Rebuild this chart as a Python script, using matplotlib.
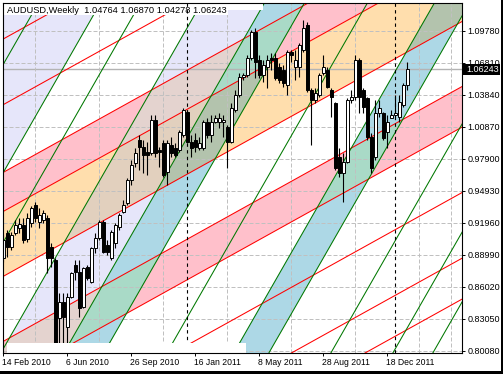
import matplotlib
matplotlib.use('Agg')
import matplotlib.pyplot as plt
import matplotlib.transforms as mtransforms
from matplotlib.patches import Rectangle, Polygon
import numpy as np

plt.rcParams['font.family'] = ['Liberation Sans', 'DejaVu Sans']

# AUDUSD weekly bars, first bar = week of 14 Feb 2010
opens = [0.8866, 0.9098, 0.8974, 0.9098, 0.9145, 0.9176, 0.9042, 0.9197, 0.9361, 0.9207,
         0.9222, 0.9238, 0.8974, 0.8850, 0.8308, 0.8463, 0.8231, 0.8510, 0.8804, 0.8742,
         0.8417, 0.8788, 0.8649, 0.8959, 0.9052, 0.9207, 0.8990, 0.8866, 0.9005, 0.9160,
         0.9299, 0.9377, 0.9594, 0.9749, 0.9965, 0.9903, 0.9857, 0.9841, 1.0151, 0.9872,
         0.9934, 0.9671, 0.9919, 0.9888, 0.9872, 1.0012, 1.0229, 0.9950, 0.9965, 0.9888,
         0.9888, 1.0136, 1.0012, 1.0136, 1.0136, 1.0136, 1.0089, 0.9950, 1.0244, 1.0383,
         1.0548, 1.0569, 1.0724, 1.0972, 1.0709, 1.0569, 1.0647, 1.0724, 1.0724, 1.0647,
         1.0616, 1.0476, 1.0786, 1.0647, 1.0647, 1.0801, 1.1034, 1.0430, 1.0337, 1.0383,
         1.0585, 1.0616, 1.0430, 1.0306, 0.9810, 0.9656, 0.9764, 1.0337, 1.0368, 1.0709,
         1.0430, 1.0352, 0.9996, 0.9810, 1.0213, 1.0213, 1.0043, 1.0167, 1.0198, 1.0182,
         1.0290, 1.04764]
highs = [0.9083, 0.9129, 0.9114, 0.9222, 0.9238, 0.9238, 0.9284, 0.9352, 0.9392, 0.9330,
         0.9315, 0.9268, 0.9005, 0.8866, 0.8541, 0.8541, 0.8541, 0.8742, 0.8850, 0.8850,
         0.8788, 0.8804, 0.8974, 0.9098, 0.9222, 0.9222, 0.9036, 0.9129, 0.9191, 0.9284,
         0.9408, 0.9609, 0.9779, 0.9888, 1.0012, 0.9965, 0.9950, 1.0198, 1.0198, 0.9903,
         0.9965, 0.9965, 0.9996, 0.9934, 1.0058, 1.0260, 1.0244, 1.0012, 1.0027, 0.9996,
         1.0151, 1.0167, 1.0198, 1.0198, 1.0213, 1.0198, 1.0105, 1.0306, 1.0430, 1.0585,
         1.0585, 1.0755, 1.0987, 1.1003, 1.0755, 1.0709, 1.0755, 1.0771, 1.0771, 1.0678,
         1.0662, 1.0801, 1.0801, 1.0801, 1.0863, 1.1080, 1.1065, 1.0445, 1.0445, 1.0585,
         1.0755, 1.0647, 1.0445, 1.0321, 0.9888, 0.9841, 1.0352, 1.0430, 1.0755, 1.0724,
         1.0445, 1.0368, 1.0027, 1.0337, 1.0337, 1.0229, 1.0198, 1.0244, 1.0383, 1.0383,
         1.0492, 1.06870]
lows = [0.8835, 0.8881, 0.8943, 0.9083, 0.9098, 0.9005, 0.9021, 0.9160, 0.9207, 0.9145,
        0.9191, 0.8726, 0.8788, 0.8060, 0.8060, 0.8060, 0.8060, 0.8494, 0.8665, 0.8324,
        0.8401, 0.8665, 0.8634, 0.8912, 0.9036, 0.8912, 0.8897, 0.8850, 0.8959, 0.9129,
        0.9284, 0.9361, 0.9547, 0.9718, 0.9687, 0.9656, 0.9640, 0.9826, 0.9810, 0.9718,
        0.9625, 0.9547, 0.9810, 0.9810, 0.9857, 0.9996, 0.9934, 0.9810, 0.9857, 0.9872,
        0.9872, 0.9981, 0.9950, 1.0120, 1.0074, 0.9996, 0.9702, 0.9934, 1.0229, 1.0368,
        1.0523, 1.0554, 1.0709, 1.0538, 1.0538, 1.0507, 1.0445, 1.0616, 1.0523, 1.0492,
        1.0461, 1.0383, 1.0693, 1.0523, 1.0554, 1.0786, 1.0414, 0.9919, 1.0306, 1.0368,
        1.0569, 1.0445, 1.0182, 0.9687, 0.9625, 0.9392, 0.9749, 1.0306, 1.0337, 1.0213,
        1.0213, 0.9965, 0.9656, 0.9779, 1.0182, 0.9965, 0.9888, 1.0167, 1.0182, 1.0136,
        1.0275, 1.04278]
closes = [0.9036, 0.8974, 0.9083, 0.9176, 0.9182, 0.9036, 0.9238, 0.9330, 0.9238, 0.9268,
          0.9284, 0.8866, 0.8866, 0.8076, 0.8463, 0.8324, 0.8510, 0.8726, 0.8742, 0.8401,
          0.8773, 0.8680, 0.8959, 0.9052, 0.9207, 0.8928, 0.8928, 0.9114, 0.9176, 0.9268,
          0.9361, 0.9594, 0.9733, 0.9841, 0.9903, 0.9826, 0.9826, 1.0151, 0.9841, 0.9857,
          0.9640, 0.9934, 0.9841, 0.9826, 1.0043, 1.0244, 0.9950, 0.9888, 0.9903, 0.9934,
          1.0136, 1.0012, 1.0136, 1.0167, 1.0167, 1.0151, 0.9950, 1.0260, 1.0383, 1.0554,
          1.0569, 1.0724, 1.0972, 1.0693, 1.0569, 1.0662, 1.0709, 1.0709, 1.0538, 1.0523,
          1.0492, 1.0786, 1.0755, 1.0709, 1.0848, 1.1003, 1.0430, 1.0337, 1.0399, 1.0569,
          1.0647, 1.0461, 1.0368, 0.9702, 0.9656, 0.9764, 1.0337, 1.0368, 1.0709, 1.0368,
          1.0275, 0.9996, 0.9702, 1.0213, 1.0260, 0.9981, 1.0136, 1.0198, 1.0213, 1.0321,
          1.0476, 1.06243]

date_labels = ['14 Feb 2010', '6 Jun 2010', '26 Sep 2010', '16 Jan 2011',
               '8 May 2011', '28 Aug 2011', '18 Dec 2011']
date_bars = [0, 16, 32, 48, 64, 80, 96]
year_breaks = [46, 98]
price_ticks = [1.0978, 1.0681, 1.0384, 1.0087, 0.9790, 0.9493,
               0.9196, 0.8899, 0.8602, 0.8305, 0.8008]

# channel lines: price at bar 0 + slope per bar
red_slope = 0.002064
red_start = [1.0904, 1.0294, 0.9665, 0.9302, 0.8699, 0.8095, 0.7718, 0.7110, 0.6500, 0.6120]
green_slope = 0.006484
green_start = [1.0669, 0.9664, 0.9016, 0.8027, 0.7006, 0.6357, 0.5336,
               0.4250, 0.3682, 0.2677, 0.1672, 0.1024]

# filled bands (upper line, lower line, colour name)
red_bands = [(0.9665, 0.9302, 'pink'), (0.9302, 0.8699, 'orange'), (0.8095, 0.7718, 'pink')]
green_bands = [(1.6000, 0.9664, 'lav'), (0.8027, 0.7006, 'lav'),
               (0.7006, 0.6357, 'blue'), (0.4250, 0.3682, 'blue')]

base_col = {'pink': '#FFC0CB', 'orange': '#FFDEAD', 'lav': '#E6E6FA', 'blue': '#ADD8E6'}
mix_col = {('pink', 'lav'): '#E4D3CF', ('orange', 'lav'): '#E2D0BE',
           ('orange', 'blue'): '#B3C3AD', ('pink', 'blue'): '#A9DAC7'}

fig = plt.figure(figsize=(5.03, 3.74), dpi=100)
ax = fig.add_axes([2.7 / 503, 1 - 352.7 / 374, 459 / 503, 350 / 374])
ax.set_xlim(-0.15, 114.6)
ax.set_ylim(0.79894, 1.12409)

X0, X1 = -60.0, 180.0


def band(top, bot, slope):
    return [(X0, top + slope * X0), (X1, top + slope * X1),
            (X1, bot + slope * X1), (X0, bot + slope * X0)]


def cross(a, b):
    i = (b - a) / (red_slope - green_slope)
    return (i, a + red_slope * i)


for top, bot, c in red_bands:
    ax.add_patch(Polygon(band(top, bot, red_slope), closed=True, fc=base_col[c], ec='none', zorder=1))
for top, bot, c in green_bands:
    ax.add_patch(Polygon(band(top, bot, green_slope), closed=True, fc=base_col[c], ec='none', zorder=1))
for ra, rb, rc in red_bands:
    for ga, gb, gc in green_bands:
        pts = [cross(ra, ga), cross(ra, gb), cross(rb, gb), cross(rb, ga)]
        ax.add_patch(Polygon(pts, closed=True, fc=mix_col[(rc, gc)], ec='none', zorder=1.2))

# grid
ax.set_yticks(price_ticks)
ax.set_yticklabels(['%.5f' % p for p in price_ticks])
ax.set_xticks(date_bars)
ax.set_xticklabels(date_labels)
ax.set_xticks(np.arange(0, 115, 8), minor=True)
ax.grid(axis='y', which='major', color='#C0C0C0', linestyle=(0, (4, 2)), lw=0.72, zorder=2)
ax.grid(axis='x', which='minor', color='#C0C0C0', linestyle=(0, (4, 2)), lw=0.72, zorder=2)
ax.set_axisbelow(False)
for gl in ax.get_xgridlines() + ax.get_ygridlines():
    gl.set_zorder(2)

# channel lines
xs = np.array([X0, X1])
for a in red_start:
    ax.plot(xs, a + red_slope * xs, color='#FF0000', lw=0.75, zorder=3)
for b in green_start:
    ax.plot(xs, b + green_slope * xs, color='#007800', lw=0.75, zorder=3)

# bid line
ax.axhline(closes[-1], color='#B4B4B4', lw=1.0, zorder=2.5)

# candles
idx = np.arange(len(closes))
o = np.array(opens)
c = np.array(closes)
h = np.maximum(np.array(highs), np.maximum(o, c))
l = np.minimum(np.array(lows), np.minimum(o, c))
ax.vlines(idx, l, h, color='black', lw=0.8, zorder=4)
body_col = ['white' if cc >= oo else 'black' for oo, cc in zip(o, c)]
ax.bar(idx, np.maximum(np.abs(c - o), 0.0004), bottom=np.minimum(o, c), width=0.62,
       color=body_col, edgecolor='black', lw=0.7, zorder=4.5)

# white areas (title box, top strip, bottom strip)
ax.add_patch(Rectangle((0, 0.9649), 0.4909, 0.0351, transform=ax.transAxes,
                       fc='white', ec='none', zorder=5))
ax.add_patch(Rectangle((0.4909, 0.9791), 0.0762, 0.0209, transform=ax.transAxes,
                       fc='white', ec='none', zorder=5))
ax.text(0.0087, 0.9771, 'AUDUSD,Weekly  1.04764 1.06870 1.04278 1.06243',
        transform=ax.transAxes, fontsize=6.7, va='center', ha='left', zorder=8)

# year separators
for yb in year_breaks:
    ax.axvline(yb, color='black', lw=0.8, linestyle=(0, (3, 3)), zorder=6)

ax.add_patch(Rectangle((0.0094, 0), 0.5206, 0.0269, transform=ax.transAxes,
                       fc='white', ec='none', zorder=7))

# axes styling
for s in ax.spines.values():
    s.set_color('black')
    s.set_linewidth(0.8)
    s.set_zorder(9)
ax.yaxis.tick_right()
ax.tick_params(axis='y', length=2.5, width=0.7, pad=1.5, labelsize=6.5, colors='black')
ax.tick_params(axis='x', which='major', length=2.5, width=0.7, pad=1.5, labelsize=6.2, colors='black')
ax.tick_params(axis='x', which='minor', length=0)
shift = mtransforms.ScaledTranslation(-1.5 / 100, 0, fig.dpi_scale_trans)
for t in ax.get_xticklabels():
    t.set_horizontalalignment('left')
    t.set_transform(t.get_transform() + shift)

# current price box
fig.patches.append(Rectangle((463 / 503, 1 - 74.5 / 374), 37 / 503, 10.5 / 374,
                             transform=fig.transFigure, fc='black', ec='none', zorder=1))
fig.text(466.0 / 503, 1 - 69.3 / 374, '%.5f' % closes[-1], color='white',
         fontsize=6.5, va='center', ha='left', zorder=3)

# window border
fig.patches.append(Rectangle((0, 0), 1, 3.5 / 374, transform=fig.transFigure,
                             fc='black', ec='none', zorder=1))
fig.patches.append(Rectangle((500.5 / 503, 0), 2.5 / 503, 1, transform=fig.transFigure,
                             fc='black', ec='none', zorder=1))

fig.savefig('out.png', dpi=100)
